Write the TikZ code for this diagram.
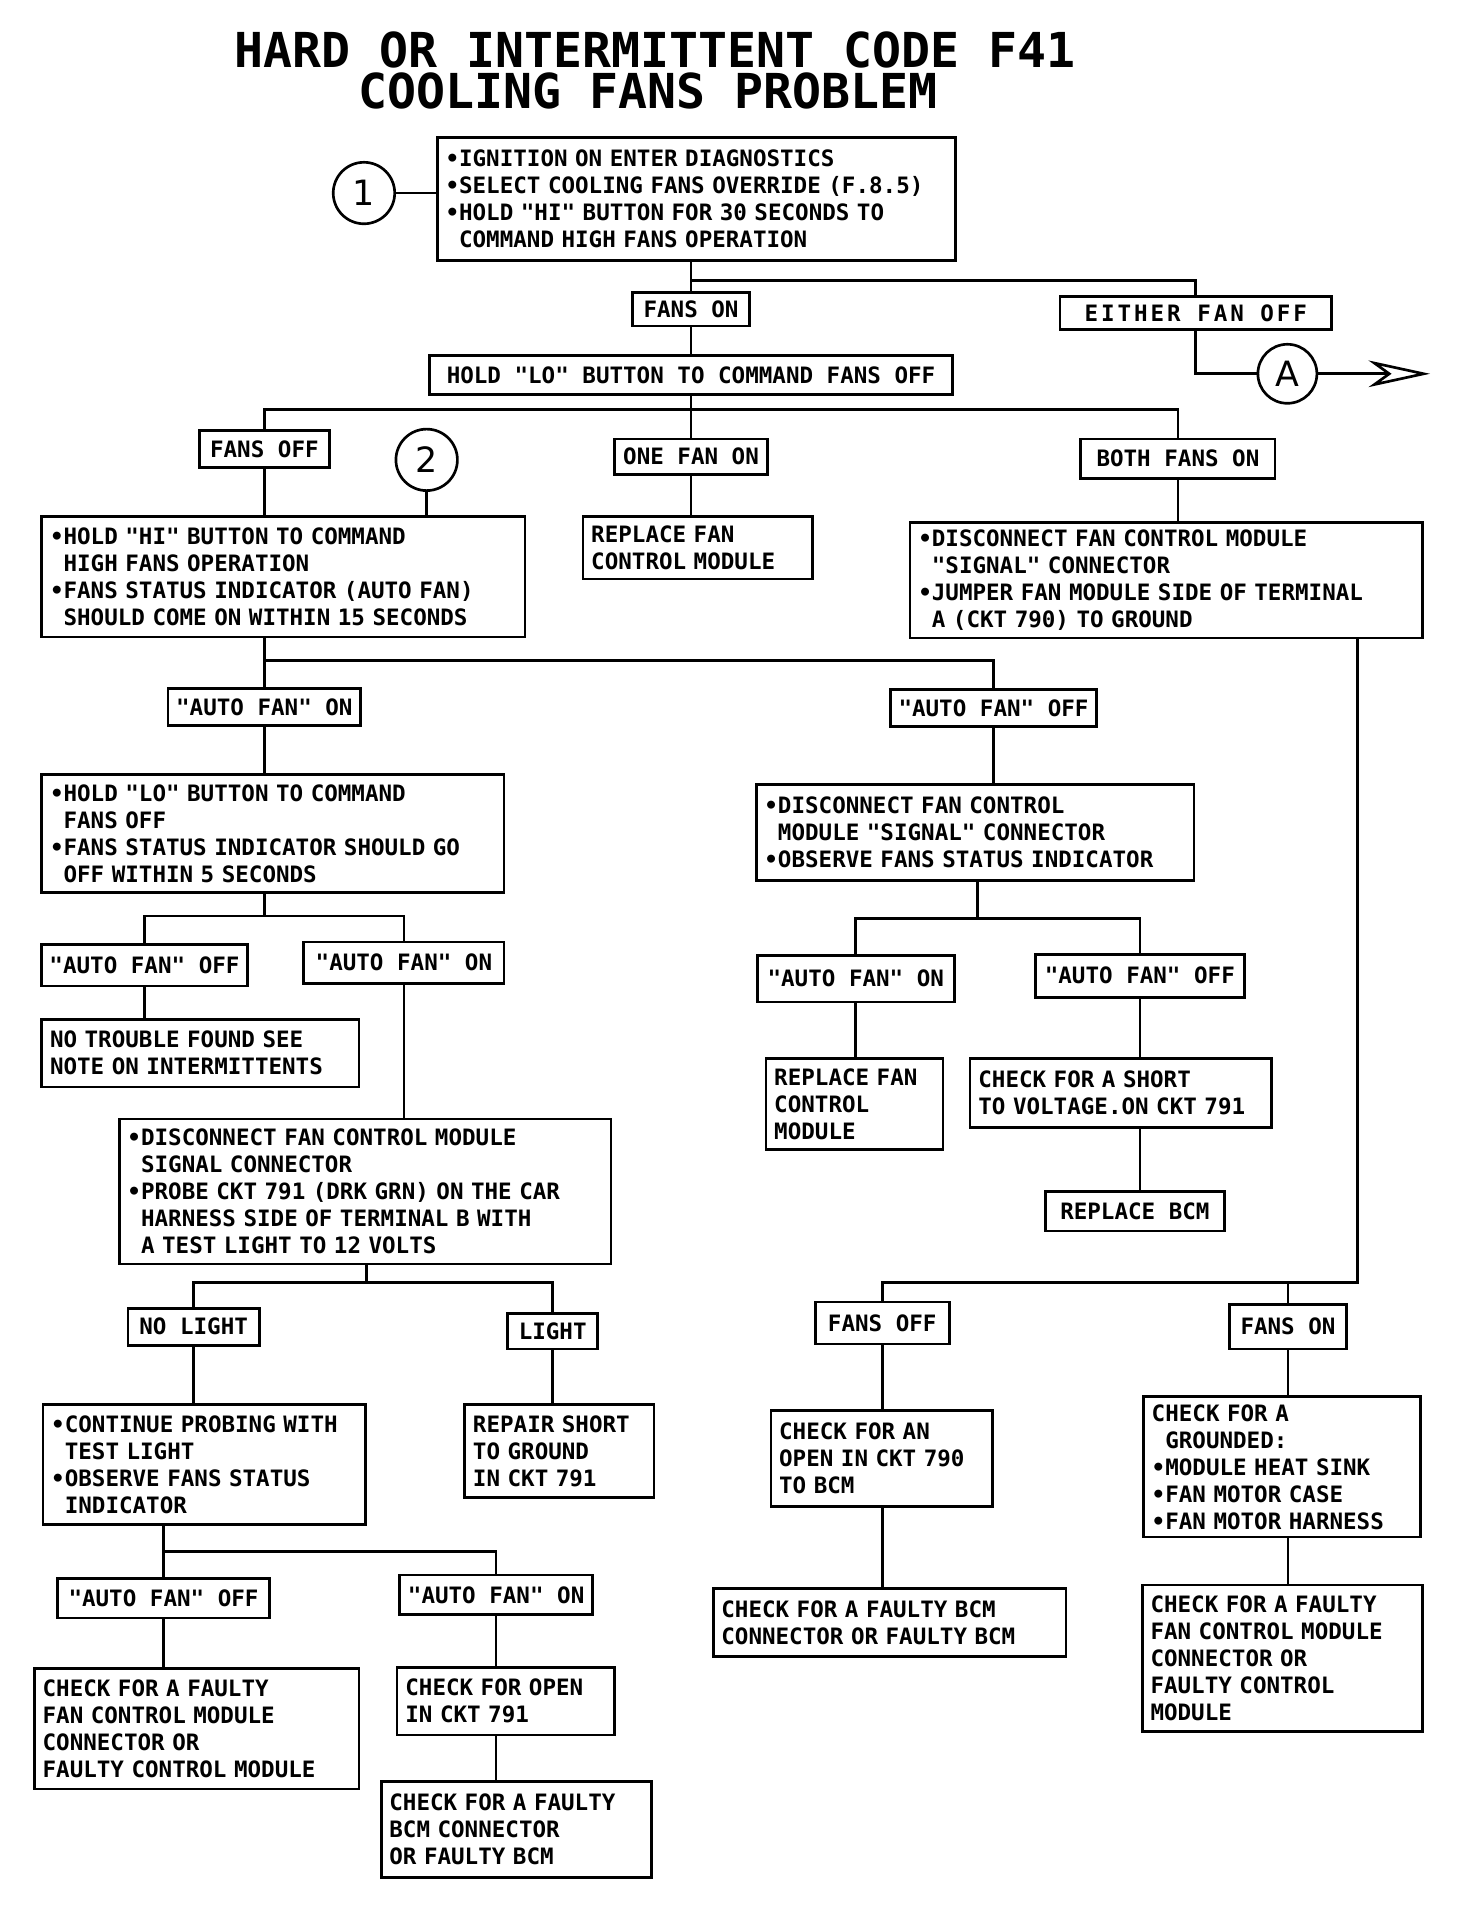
\documentclass[tikz,border=0pt]{standalone}
\usepackage{fontspec}
\setmonofont{DejaVu Sans Mono}
\setsansfont{DejaVu Sans}
\usepackage{tikz}
\usetikzlibrary{arrows.meta}
\newcommand\bul{\textbullet}
\newcommand\hng{\hphantom{\textbullet}}

\begin{document}
\begin{tikzpicture}[
x=0.6pt, y=-0.6pt,
box/.style={draw, line width=1.3pt, inner xsep=4pt, inner ysep=2pt, align=left, font=\ttfamily\bfseries\fontsize{11}{13.2}\selectfont},
lbl/.style={box, align=center},
circ/.style={draw, circle, line width=1.3pt, minimum size=30pt, inner sep=0pt, font=\sffamily\fontsize{17}{17}\selectfont},
ttl/.style={inner sep=0pt, font=\ttfamily\bfseries\fontsize{23.5}{23.5}\selectfont},
conn/.style={line width=1.3pt}
]
\fill[white] (0,0) rectangle (1197,1568);
\useasboundingbox (0,0) rectangle (1197,1568);

\node[ttl] (title1) at (533,41) {HARD OR INTERMITTENT CODE F41};
\node[ttl] (title2) at (527,74) {COOLING FANS PROBLEM};

\node[box, text width=245pt, minimum height=60pt] (intro) at (566.5,162) {\bul IGNITION ON ENTER DIAGNOSTICS\\\bul SELECT COOLING FANS OVERRIDE (F.8.5)\\\bul HOLD "HI" BUTTON FOR 30 SECONDS TO\\\hng COMMAND HIGH FANS OPERATION};
\node[circ] (c1) at (296,157) {1};
\node[lbl, minimum width=57pt, minimum height=16.2pt] (fanson) at (562,251.5) {FANS ON};
\node[lbl, minimum width=132.6pt, minimum height=16.2pt] (either) at (972.5,254.5) {\addfontfeature{LetterSpace=13}EITHER FAN OFF};
\node[circ, minimum size=28.8pt] (cA) at (1047,304) {A};
\coordinate (tipA) at (1163,304);
\node[lbl, minimum width=255pt, minimum height=19.2pt] (holdlo) at (562,305) {HOLD "LO" BUTTON TO COMMAND FANS OFF};

\node[lbl, minimum width=63.6pt, minimum height=18pt] (fansoff) at (215,365) {FANS OFF};
\node[circ] (c2) at (347,374) {2};
\node[lbl, minimum width=74.4pt, minimum height=17.4pt] (onefan) at (562,371.5) {ONE FAN ON};
\node[lbl, minimum width=94.8pt, minimum height=19.2pt] (bothon) at (958,373) {BOTH FANS ON};

\node[box, text width=227.8pt, minimum height=58.8pt] (holdhi) at (230.5,469) {\bul HOLD "HI" BUTTON TO COMMAND\\\hng HIGH FANS OPERATION\\\bul FANS STATUS INDICATOR (AUTO FAN)\\\hng SHOULD COME ON WITHIN 15 SECONDS};
\node[box, text width=104pt, minimum height=30.6pt] (replace1) at (567.5,445.5) {REPLACE FAN\\CONTROL MODULE};
\node[box, text width=242pt, minimum height=56.4pt] (jumper) at (948.5,472) {\bul DISCONNECT FAN CONTROL MODULE\\\hng "SIGNAL" CONNECTOR\\\bul JUMPER FAN MODULE SIDE OF TERMINAL\\\hng A (CKT 790) TO GROUND};

\node[lbl, minimum width=92.4pt, minimum height=18pt] (afon1) at (215,575) {"AUTO FAN" ON};
\node[lbl, minimum width=100.8pt, minimum height=18pt] (afoff1) at (808,576) {"AUTO FAN" OFF};
\node[box, text width=217.6pt, minimum height=57.6pt] (holdlo2) at (222,678) {\bul HOLD "LO" BUTTON TO COMMAND\\\hng FANS OFF\\\bul FANS STATUS INDICATOR SHOULD GO\\\hng OFF WITHIN 5 SECONDS};
\node[box, text width=205.6pt, minimum height=46.8pt] (discon2) at (793,677) {\bul DISCONNECT FAN CONTROL\\\hng MODULE "SIGNAL" CONNECTOR\\\bul OBSERVE FANS STATUS INDICATOR};

\node[lbl, minimum width=100.2pt, minimum height=20.4pt] (afoff2) at (117.5,785) {"AUTO FAN" OFF};
\node[lbl, minimum width=97.8pt, minimum height=20.4pt] (afon2) at (328.5,783) {"AUTO FAN" ON};
\node[lbl, minimum width=96pt, minimum height=22.8pt] (afon4) at (696,796) {"AUTO FAN" ON};
\node[lbl, minimum width=102pt, minimum height=21pt] (afoff4) at (927,793.5) {"AUTO FAN" OFF};

\node[box, text width=146.8pt, minimum height=33pt] (notrouble) at (163,856.5) {NO TROUBLE FOUND SEE\\NOTE ON INTERMITTENTS};
\node[box, text width=78.4pt, minimum height=44.4pt] (replace2) at (695,898) {REPLACE FAN\\CONTROL\\MODULE};
\node[box, text width=139pt, minimum height=33.6pt] (short) at (911.5,889) {CHECK FOR A SHORT\\TO VOLTAGE.ON CKT 791};
\node[lbl, minimum width=87.6pt, minimum height=19.2pt] (replbcm) at (923,985) {REPLACE BCM};
\node[box, text width=232pt, minimum height=70.8pt] (probe) at (297,969) {\bul DISCONNECT FAN CONTROL MODULE\\\hng SIGNAL CONNECTOR\\\bul PROBE CKT 791 (DRK GRN) ON THE CAR\\\hng HARNESS SIDE OF TERMINAL B WITH\\\hng A TEST LIGHT TO 12 VOLTS};

\node[lbl, minimum width=64.2pt, minimum height=18pt] (nolight) at (157.5,1079) {NO LIGHT};
\node[lbl, minimum width=43.8pt, minimum height=17.4pt] (light) at (449.5,1082.5) {LIGHT};
\node[lbl, minimum width=65.4pt, minimum height=20.4pt] (fansoff2) at (717.5,1076) {FANS OFF};
\node[lbl, minimum width=57pt, minimum height=21.6pt] (fanson2) at (1047.5,1079) {FANS ON};

\node[box, text width=149.2pt, minimum height=58.8pt] (contprobe) at (166,1191) {\bul CONTINUE PROBING WITH\\\hng TEST LIGHT\\\bul OBSERVE FANS STATUS\\\hng INDICATOR};
\node[box, text width=84.4pt, minimum height=45.6pt] (repair) at (455,1180) {REPAIR SHORT\\TO GROUND\\IN CKT 791};
\node[box, text width=100pt, minimum height=46.8pt] (open790) at (717,1186) {CHECK FOR AN\\OPEN IN CKT 790\\TO BCM};
\node[box, text width=127pt, minimum height=68.4pt] (grounded) at (1042.5,1193) {CHECK FOR A\\\hng GROUNDED:\\\bul MODULE HEAT SINK\\\bul FAN MOTOR CASE\\\bul FAN MOTOR HARNESS};

\node[lbl, minimum width=103.2pt, minimum height=19.2pt] (afoff3) at (133,1300) {"AUTO FAN" OFF};
\node[lbl, minimum width=93pt, minimum height=19.2pt] (afon3) at (403.5,1297) {"AUTO FAN" ON};
\node[box, text width=164.2pt, minimum height=33pt] (faultybcm2) at (723.5,1319.5) {CHECK FOR A FAULTY BCM\\CONNECTOR OR FAULTY BCM};
\node[box, text width=128.8pt, minimum height=71.4pt] (faulty2) at (1043,1348.5) {CHECK FOR A FAULTY\\FAN CONTROL MODULE\\CONNECTOR OR\\FAULTY CONTROL\\MODULE};

\node[box, text width=150.4pt, minimum height=58.8pt] (faulty1) at (160,1406) {CHECK FOR A FAULTY\\FAN CONTROL MODULE\\CONNECTOR OR\\FAULTY CONTROL MODULE};
\node[box, text width=98.2pt, minimum height=33pt] (openckt) at (411.5,1383.5) {CHECK FOR OPEN\\IN CKT 791};
\node[box, text width=124pt, minimum height=46.8pt] (faultybcm1) at (420,1488) {CHECK FOR A FAULTY\\BCM CONNECTOR\\OR FAULTY BCM};

\coordinate (j1) at (562,228);
\coordinate (j2) at (562,333);
\coordinate (j3) at (215,537);
\coordinate (j4) at (215,745);
\coordinate (j5) at (298,1043);
\coordinate (j6) at (133,1262);
\coordinate (j7) at (795,747);
\coordinate (j8) at (1104,1043);

\draw[conn] (c1) -- (c1 -| intro.west);
\draw[conn] (intro.south -| fanson) -- (fanson);
\draw[conn] (j1) -| (either);
\draw[conn] (either) |- (cA);
\draw[conn, -{Stealth[open, length=30pt, width=13pt, inset=9pt]}] (cA) -- (tipA);
\draw[conn] (fanson) -- (holdlo);
\draw[conn] (holdlo) -- (onefan);
\draw[conn] (fansoff) |- (j2) -| (bothon);
\draw[conn] (fansoff) -- (fansoff |- holdhi.north);
\draw[conn] (c2) -- (c2 |- holdhi.north);
\draw[conn] (onefan) -- (onefan |- replace1.north);
\draw[conn] (bothon) -- (bothon |- jumper.north);
\draw[conn] (holdhi.south -| afon1) -- (afon1);
\draw[conn] (j3) -| (afoff1);
\draw[conn] (afon1) -- (afon1 |- holdlo2.north);
\draw[conn] (afoff1) -- (afoff1 |- discon2.north);
\draw[conn] (holdlo2.south -| j4) -- (j4);
\draw[conn] (afoff2) |- (j4) -| (afon2);
\draw[conn] (afoff2) -- (afoff2 |- notrouble.north);
\draw[conn] (afon2) -- (afon2 |- probe.north);
\draw[conn] (probe.south -| j5) -- (j5);
\draw[conn] (nolight) |- (j5) -| (light);
\draw[conn] (nolight) -- (nolight |- contprobe.north);
\draw[conn] (light) -- (light |- repair.north);
\draw[conn] (contprobe.south -| afoff3) -- (afoff3);
\draw[conn] (j6) -| (afon3);
\draw[conn] (afoff3) -- (afoff3 |- faulty1.north);
\draw[conn] (afon3) -- (afon3 |- openckt.north);
\draw[conn] (openckt.south -| afon3) -- (afon3 |- faultybcm1.north);
\draw[conn] (discon2.south -| j7) -- (j7);
\draw[conn] (afon4) |- (j7) -| (afoff4);
\draw[conn] (afon4) -- (afon4 |- replace2.north);
\draw[conn] (afoff4) -- (afoff4 |- short.north);
\draw[conn] (short.south -| afoff4) -- (afoff4 |- replbcm.north);
\draw[conn] (jumper.south -| j8) -- (j8) -| (fansoff2);
\draw[conn] (fanson2 |- j8) -- (fanson2);
\draw[conn] (fansoff2) -- (fansoff2 |- open790.north);
\draw[conn] (open790.south -| fansoff2) -- (fansoff2 |- faultybcm2.north);
\draw[conn] (fanson2) -- (fanson2 |- grounded.north);
\draw[conn] (grounded.south -| fanson2) -- (fanson2 |- faulty2.north);
\end{tikzpicture}
\end{document}
